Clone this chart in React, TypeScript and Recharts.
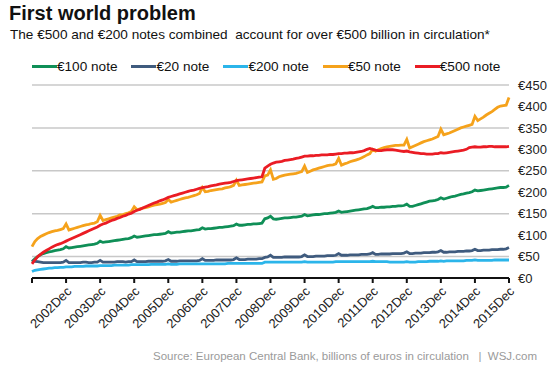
import { CartesianGrid, Line, LineChart, XAxis, YAxis } from 'recharts'

// monthly, 2001Dec .. 2015Dec (169 points), billions of euros
const yearLabels = [
  '2002Dec', '2003Dec', '2004Dec', '2005Dec', '2006Dec', '2007Dec', '2008Dec',
  '2009Dec', '2010Dec', '2011Dec', '2012Dec', '2013Dec', '2014Dec', '2015Dec',
]
const monthNames = ['Jan', 'Feb', 'Mar', 'Apr', 'May', 'Jun', 'Jul', 'Aug', 'Sep', 'Oct', 'Nov', 'Dec']
const months: string[] = ['2001Dec']
for (let y = 2002; y <= 2015; y++) monthNames.forEach((m) => months.push(`${y}${m}`))

const eur100 = [
  38,
  45, 50, 54, 57, 59, 61, 62, 64, 65, 66, 68, 73,
  70, 71, 72, 73, 74, 75, 76, 77, 78, 79, 81, 86,
  83, 84, 85, 86, 87, 88, 89, 90, 91, 92, 94, 98,
  95, 96, 97, 98, 99, 100, 101, 101, 102, 103, 104, 108,
  105, 106, 107, 107, 108, 109, 110, 110, 111, 112, 113, 117,
  114, 115, 115, 116, 117, 118, 118, 119, 120, 121, 122, 126,
  123, 123, 124, 125, 125, 126, 126, 127, 128, 138, 140, 144,
  138, 137, 138, 139, 140, 140, 141, 142, 142, 143, 144, 148,
  145, 146, 147, 148, 148, 149, 150, 150, 151, 152, 153, 156,
  153, 154, 155, 156, 157, 158, 159, 160, 161, 162, 164, 167,
  164, 164, 165, 165, 166, 166, 167, 167, 168, 168, 169, 172,
  167, 167, 169, 171, 173, 175, 177, 179, 180, 181, 183, 187,
  184, 186, 188, 190, 191, 193, 195, 196, 198, 199, 201, 205,
  203, 204, 205, 206, 207, 208, 209, 210, 211, 211, 212, 216,
]
const eur20 = [
  40,
  39, 38, 37, 36, 36, 36, 36, 36, 36, 36, 37, 41,
  36, 36, 36, 36, 36, 37, 37, 36, 36, 37, 37, 41,
  37, 37, 37, 37, 37, 38, 38, 38, 37, 38, 38, 42,
  38, 38, 38, 38, 39, 39, 39, 39, 39, 39, 40, 43,
  39, 39, 39, 40, 40, 40, 40, 40, 40, 40, 41, 45,
  41, 41, 41, 41, 42, 42, 42, 42, 42, 42, 43, 47,
  43, 43, 43, 44, 44, 44, 44, 45, 45, 48, 49, 53,
  48, 48, 48, 48, 49, 49, 49, 49, 49, 49, 50, 54,
  50, 50, 50, 51, 51, 51, 51, 52, 52, 52, 53, 57,
  53, 53, 53, 54, 54, 54, 54, 55, 55, 55, 56, 59,
  55, 55, 56, 56, 56, 56, 57, 57, 57, 57, 58, 61,
  57, 57, 58, 58, 58, 59, 59, 59, 60, 60, 61, 64,
  60, 60, 61, 61, 61, 62, 62, 62, 63, 63, 64, 67,
  64, 64, 65, 65, 65, 66, 66, 66, 67, 67, 68, 71,
]
const eur200 = [
  15,
  18, 19, 20, 21, 22, 23, 23, 24, 24, 25, 25, 26,
  26, 26, 27, 27, 27, 27, 28, 28, 28, 28, 28, 29,
  29, 29, 29, 29, 30, 30, 30, 30, 30, 30, 31, 31,
  31, 31, 31, 31, 31, 32, 32, 32, 32, 32, 32, 33,
  32, 32, 32, 33, 33, 33, 33, 33, 33, 33, 33, 33,
  33, 33, 33, 33, 33, 33, 33, 33, 34, 34, 34, 34,
  34, 34, 34, 34, 34, 34, 34, 34, 34, 37, 37, 37,
  37, 37, 37, 37, 37, 37, 37, 37, 37, 37, 37, 38,
  37, 37, 37, 37, 37, 37, 37, 37, 37, 37, 38, 38,
  38, 38, 38, 38, 38, 38, 38, 38, 38, 38, 38, 39,
  38, 38, 38, 38, 38, 37, 37, 37, 37, 37, 37, 38,
  37, 37, 37, 38, 38, 38, 38, 39, 39, 39, 39, 40,
  39, 40, 40, 40, 40, 40, 40, 40, 41, 41, 41, 42,
  41, 41, 41, 41, 41, 41, 42, 42, 42, 42, 42, 42,
]
const eur50 = [
  73,
  85, 92, 97, 100, 103, 106, 108, 110, 111, 113, 115, 126,
  112, 114, 116, 118, 120, 122, 124, 125, 127, 128, 131, 146,
  134, 136, 138, 140, 142, 144, 147, 148, 150, 152, 155, 166,
  159, 161, 163, 164, 166, 168, 170, 171, 172, 174, 176, 183,
  177, 179, 181, 183, 185, 187, 188, 190, 192, 194, 197, 211,
  201, 202, 204, 205, 206, 207, 208, 210, 211, 213, 216, 228,
  216, 217, 218, 219, 220, 221, 222, 223, 224, 238, 240, 252,
  230, 232, 236, 238, 240, 241, 242, 243, 244, 246, 248, 261,
  246, 249, 252, 254, 256, 258, 260, 262, 263, 264, 266, 279,
  263, 266, 268, 271, 273, 275, 277, 280, 283, 287, 290, 300,
  296, 299, 302, 304, 306, 307, 308, 309, 309, 310, 310, 323,
  303, 306, 309, 312, 315, 318, 320, 322, 324, 327, 330, 347,
  334, 336, 338, 341, 344, 347, 350, 352, 354, 356, 358, 377,
  367, 371, 375, 380, 384, 388, 393, 398, 401, 402, 403, 421,
]
const eur500 = [
  33,
  42, 50, 55, 60, 64, 68, 72, 75, 78, 80, 83, 86,
  89, 92, 95, 98, 101, 104, 107, 110, 113, 116, 119, 123,
  126, 128, 131, 134, 136, 139, 141, 144, 146, 149, 151, 155,
  158, 160, 163, 166, 169, 172, 175, 177, 180, 182, 185, 188,
  190, 192, 194, 196, 198, 200, 202, 204, 205, 207, 209, 211,
  212, 213, 215, 216, 217, 219, 220, 221, 222, 223, 225, 227,
  228, 229, 230, 231, 232, 233, 234, 235, 236, 256, 261, 265,
  268, 270, 271, 272, 274, 275, 276, 277, 279, 280, 282, 284,
  284, 285, 285, 286, 286, 287, 287, 287, 288, 288, 289, 290,
  290, 291, 291, 292, 292, 293, 294, 295, 297, 300, 302, 300,
  298, 297, 297, 298, 299, 299, 299, 298, 297, 296, 295, 296,
  294, 293, 292, 291, 290, 290, 289, 289, 289, 290, 290, 292,
  291, 292, 293, 294, 295, 296, 297, 298, 300, 304, 305, 306,
  305, 305, 306, 306, 307, 307, 306, 306, 306, 306, 306, 307,
]
const yTicks = [0, 50, 100, 150, 200, 250, 300, 350, 400, 450]

const series = [
  { key: 'eur100', name: '€100 note', color: '#0f8f57' },
  { key: 'eur20', name: '€20 note', color: '#3f5b7e' },
  { key: 'eur200', name: '€200 note', color: '#2bb5ea' },
  { key: 'eur50', name: '€50 note', color: '#f5a21b' },
  { key: 'eur500', name: '€500 note', color: '#ea1c24' },
]

const data = months.map((month, i) => ({
  i,
  month,
  eur100: eur100[i],
  eur20: eur20[i],
  eur200: eur200[i],
  eur50: eur50[i],
  eur500: eur500[i],
}))

const xTicks = [0, ...yearLabels.map((_, k) => (k + 1) * 12)]
const FONT = '"Liberation Sans", Arial, sans-serif'

function XTick({ x, y, payload }: any) {
  if (payload.value === 0) return null
  return (
    <g transform={`translate(${x + 3},${y + 4})`}>
      <text transform="rotate(-45)" textAnchor="end" dy="0.35em" fontSize={13} fill="#222" fontFamily={FONT}>
        {months[payload.value]}
      </text>
    </g>
  )
}

export default function App() {
  return (
    <div
      style={{
        position: 'absolute',
        left: 0,
        top: 0,
        width: 553,
        height: 369,
        background: '#fff',
        fontFamily: FONT,
        color: '#111',
        overflow: 'hidden',
      }}
    >
      <div style={{ position: 'absolute', left: 9, top: 2, fontSize: 20, fontWeight: 'bold' }}>First world problem</div>
      <div style={{ position: 'absolute', left: 10, top: 27, fontSize: 13.6, whiteSpace: 'pre' }}>
        The €500 and €200 notes combined  account for over €500 billion in circulation*
      </div>
      <div style={{ position: 'absolute', left: 32, top: 59, display: 'flex', fontSize: 13.6 }}>
        {series.map((s) => (
          <div key={s.key} style={{ display: 'flex', alignItems: 'center', marginRight: 14 }}>
            <span style={{ width: 25, height: 3, background: s.color, display: 'inline-block' }} />
            <span>{s.name}</span>
          </div>
        ))}
      </div>

      <LineChart
        width={553}
        height={369}
        data={data}
        margin={{ top: 85, right: 4, left: 32, bottom: 31 }}
        style={{ position: 'absolute', left: 0, top: 0 }}
      >
        <CartesianGrid vertical={false} stroke="#c8c8c8" strokeWidth={1.5} />
        <XAxis
          dataKey="i"
          type="number"
          domain={[0, 168]}
          ticks={xTicks}
          interval={0}
          height={60}
          axisLine={{ stroke: '#111', strokeWidth: 2 }}
          tickLine={{ stroke: '#111', strokeWidth: 2 }}
          tickSize={5}
          tick={<XTick />}
        />
        <YAxis
          orientation="right"
          domain={[0, 450]}
          ticks={yTicks}
          width={40}
          axisLine={false}
          tickLine={false}
          tickSize={0}
          tickMargin={9}
          tickFormatter={(v: number) => `€${v}`}
          tick={{ fontSize: 13, fill: '#222', fontFamily: FONT, textAnchor: 'start' }}
        />
        {series.map((s) => (
          <Line
            key={s.key}
            dataKey={s.key}
            name={s.name}
            stroke={s.color}
            strokeWidth={2.8}
            dot={false}
            type="linear"
            isAnimationActive={false}
          />
        ))}
      </LineChart>

      <div style={{ position: 'absolute', right: 16, top: 350, fontSize: 11.5, color: '#9a9a9a', whiteSpace: 'pre' }}>
        Source: European Central Bank, billions of euros in circulation   |  WSJ.com
      </div>
    </div>
  )
}
